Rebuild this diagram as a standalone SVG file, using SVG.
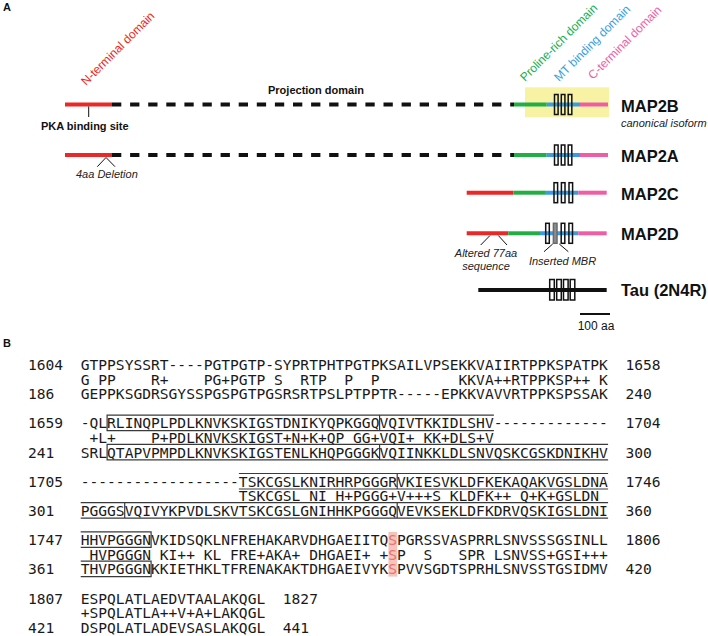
<svg xmlns="http://www.w3.org/2000/svg" width="708" height="636" viewBox="0 0 708 636">
<style>
.sans{font-family:"Liberation Sans",Arial,sans-serif}
.panel{font-family:"Liberation Sans",Arial,sans-serif;font-weight:bold;font-size:11px;fill:#111}
.dom{font-family:"Liberation Sans",Arial,sans-serif;font-size:12px}
.lbl{font-family:"Liberation Sans",Arial,sans-serif;font-weight:bold;font-size:16.5px;fill:#111}
.note{font-family:"Liberation Sans",Arial,sans-serif;font-style:italic;font-size:11px;fill:#222}
.bnote{font-family:"Liberation Sans",Arial,sans-serif;font-weight:bold;font-size:11px;fill:#111}
.red{stroke:#ec2727;stroke-width:4}
.grn{stroke:#22ad45;stroke-width:4}
.blu{stroke:#3b9de0;stroke-width:4}
.pnk{stroke:#ef5ea2;stroke-width:4}
.dash{stroke:#111;stroke-width:4;stroke-dasharray:9.3 8.8}
.mt{fill:none;stroke:#111;stroke-width:1.5}
.mtg{fill:#8e8e8e;stroke:#6a6a6a;stroke-width:1.5}
.tick{stroke:#111;stroke-width:1;fill:none}
.seq{font-family:"DejaVu Sans Mono",monospace;font-size:14.6px;fill:#1a1a1a;white-space:pre}
.box{fill:none;stroke:#3a3a3a;stroke-width:1.2}
.hl{fill:#e8736e}
</style>

<text class="panel" x="3" y="11">A</text>
<text class="panel" x="3" y="347">B</text>

<g id="domain-labels">
<text class="dom" fill="#ec2727" transform="translate(86,86) rotate(-45)">N-terminal domain</text>
<text class="dom" fill="#22ad45" transform="translate(525,82) rotate(-45)">Proline-rich domain</text>
<text class="dom" fill="#3b9de0" transform="translate(559,82) rotate(-45)">MT binding domain</text>
<text class="dom" fill="#ef5ea2" transform="translate(593,80) rotate(-45)">C-terminal domain</text>
<text class="bnote" x="268" y="93.5">Projection domain</text>
</g>

<g id="MAP2B">
<rect x="525" y="87.3" width="84" height="30" fill="#f7f2a4"/>
<line class="red" x1="65" y1="104.5" x2="112" y2="104.5"/>
<line class="dash" x1="112" y1="104.5" x2="514" y2="104.5"/>
<line class="grn" x1="514" y1="104.5" x2="546.7" y2="104.5"/>
<line class="blu" x1="546.7" y1="104.5" x2="580" y2="104.5"/>
<line class="pnk" x1="580" y1="104.5" x2="608" y2="104.5"/>
<rect class="mt" x="554.5" y="94.5" width="3.6" height="20"/>
<rect class="mt" x="561.3" y="94.5" width="3.6" height="20"/>
<rect class="mt" x="568.2" y="94.5" width="3.6" height="20"/>
<text class="lbl" x="621" y="111.5">MAP2B</text>
<text class="note" x="621" y="126.5">canonical isoform</text>
<text class="bnote" x="41" y="130">PKA binding site</text>
</g>

<g id="MAP2A">
<line class="red" x1="65" y1="155" x2="112" y2="155"/>
<line class="dash" x1="112" y1="155" x2="514" y2="155"/>
<line class="grn" x1="514" y1="155" x2="546.7" y2="155"/>
<line class="blu" x1="546.7" y1="155" x2="580" y2="155"/>
<line class="pnk" x1="580" y1="155" x2="608" y2="155"/>
<rect class="mt" x="554.5" y="145" width="3.6" height="20"/>
<rect class="mt" x="561.3" y="145" width="3.6" height="20"/>
<rect class="mt" x="568.2" y="145" width="3.6" height="20"/>
<text class="lbl" x="621" y="161.5">MAP2A</text>
<text class="note" x="76" y="178">4aa Deletion</text>
</g>

<g id="MAP2C">
<line class="red" x1="466.7" y1="192.7" x2="513.3" y2="192.7"/>
<line class="grn" x1="513.3" y1="192.7" x2="545" y2="192.7"/>
<line class="blu" x1="545" y1="192.7" x2="578.3" y2="192.7"/>
<line class="pnk" x1="578.3" y1="192.7" x2="606.7" y2="192.7"/>
<rect class="mt" x="554" y="182.7" width="3.6" height="20"/>
<rect class="mt" x="561.4" y="182.7" width="3.6" height="20"/>
<rect class="mt" x="569" y="182.7" width="3.6" height="20"/>
<text class="lbl" x="621" y="199.5">MAP2C</text>
</g>

<g id="MAP2D">
<line class="red" x1="466.7" y1="233.3" x2="508.3" y2="233.3"/>
<line class="grn" x1="508.3" y1="233.3" x2="540" y2="233.3"/>
<line class="blu" x1="540" y1="233.3" x2="578.3" y2="233.3"/>
<line class="pnk" x1="578.3" y1="233.3" x2="606.7" y2="233.3"/>
<rect class="mt" x="545.7" y="223.3" width="3.6" height="20"/>
<rect class="mtg" x="553.4" y="223.3" width="3.6" height="20"/>
<rect class="mt" x="561.2" y="223.3" width="3.6" height="20"/>
<rect class="mt" x="568.9" y="223.3" width="3.6" height="20"/>
<text class="lbl" x="621" y="240">MAP2D</text>
<text class="note" x="486" y="256.5" text-anchor="middle">Altered 77aa</text>
<text class="note" x="486" y="269.5" text-anchor="middle">sequence</text>
<text class="note" x="562.5" y="264.5" text-anchor="middle">Inserted MBR</text>
</g>

<g id="Tau">
<line x1="478.3" y1="290" x2="606.7" y2="290" stroke="#111" stroke-width="4"/>
<rect class="mt" x="549.7" y="279.5" width="4.6" height="20.5"/>
<rect class="mt" x="556.7" y="279.5" width="4.6" height="20.5"/>
<rect class="mt" x="563.5" y="279.5" width="4.6" height="20.5"/>
<rect class="mt" x="570.2" y="279.5" width="4.6" height="20.5"/>
<text class="lbl" x="621" y="296">Tau (2N4R)</text>
</g>

<g id="scale-bar">
<line x1="580" y1="314" x2="610" y2="314" stroke="#111" stroke-width="2"/>
<text class="sans" x="596" y="329.5" font-size="12" text-anchor="middle" fill="#111">100 aa</text>
</g>

<g id="connectors">
<line class="tick" x1="88.7" y1="106.5" x2="88.7" y2="117"/>
<polyline class="tick" points="97.3,166.7 106,157.5 115,166.7"/>
<line class="tick" x1="490" y1="235.5" x2="480.7" y2="245"/>
<line class="tick" x1="498.3" y1="235.5" x2="507" y2="245"/>
<line class="tick" x1="552.7" y1="244" x2="544" y2="251.7"/>
<line class="tick" x1="559.3" y1="244" x2="568.3" y2="251.7"/>
</g>

<g id="alignment">
<rect x="388.4" y="531.9" width="8.79" height="44.7" fill="#f6c3bd"/>
<path class="box" d="M493.9 415.1H107.1V430.6H493.9M379.6 415.1V430.6"/>
<path class="box" d="M608.1 444.3H107.1V459.8H608.1M379.6 444.3V459.8"/>
<path class="box" d="M238.9 473.5H608.1M238.9 489H608.1M397.2 473.5V489"/>
<path class="box" d="M80.7 502.7H608.1M80.7 518.2H608.1M124.7 502.7V518.2M397.2 502.7V518.2"/>
<path class="box" d="M80.7 531.9H151.1V547.4H80.7"/>
<path class="box" d="M80.7 561.1H151.1V576.6H80.7"/>
<text class="seq" x="28" y="370" xml:space="preserve">1604  GTPPSYSSRT----PGTPGTP-SYPRTPHTPGTPKSAILVPSEKKVAIIRTPPKSPATPK  1658</text>
<text class="seq" x="28" y="384.6" xml:space="preserve">      G PP    R+    PG+PGTP S  RTP  P  P         KKVA++RTPPKSP++ K</text>
<text class="seq" x="28" y="399.2" xml:space="preserve">186   GEPPKSGDRSGYSSPGSPGTPGSRSRTPSLPTPPTR-----EPKKVAVVRTPPKSPSSAK  240</text>
<text class="seq" x="28" y="428.4" xml:space="preserve">1659  -QLRLINQPLPDLKNVKSKIGSTDNIKYQPKGGQVQIVTKKIDLSHV-------------  1704</text>
<text class="seq" x="28" y="443" xml:space="preserve">       +L+    P+PDLKNVKSKIGST+N+K+QP GG+VQI+ KK+DLS+V</text>
<text class="seq" x="28" y="457.6" xml:space="preserve">241   SRLQTAPVPMPDLKNVKSKIGSTENLKHQPGGGKVQIINKKLDLSNVQSKCGSKDNIKHV  300</text>
<text class="seq" x="28" y="486.8" xml:space="preserve">1705  ------------------TSKCGSLKNIRHRPGGGRVKIESVKLDFKEKAQAKVGSLDNA  1746</text>
<text class="seq" x="28" y="501.4" xml:space="preserve">                        TSKCGSL NI H+PGGG+V+++S KLDFK++ Q+K+GSLDN</text>
<text class="seq" x="28" y="516" xml:space="preserve">301   PGGGSVQIVYKPVDLSKVTSKCGSLGNIHHKPGGGQVEVKSEKLDFKDRVQSKIGSLDNI  360</text>
<text class="seq" x="28" y="545.2" xml:space="preserve">1747  HHVPGGGNVKIDSQKLNFREHAKARVDHGAEIITQ<tspan class="hl">S</tspan>PGRSSVASPRRLSNVSSSGSINLL  1806</text>
<text class="seq" x="28" y="559.8" xml:space="preserve">       HVPGGGN KI++ KL FRE+AKA+ DHGAEI+ +<tspan class="hl">S</tspan>P  S   SPR LSNVSS+GSI+++</text>
<text class="seq" x="28" y="574.4" xml:space="preserve">361   THVPGGGNKKIETHKLTFRENAKAKTDHGAEIVYK<tspan class="hl">S</tspan>PVVSGDTSPRHLSNVSSTGSIDMV  420</text>
<text class="seq" x="28" y="603.6" xml:space="preserve">1807  ESPQLATLAEDVTAALAKQGL  1827</text>
<text class="seq" x="28" y="618.2" xml:space="preserve">      +SPQLATLA++V+A+LAKQGL</text>
<text class="seq" x="28" y="632.8" xml:space="preserve">421   DSPQLATLADEVSASLAKQGL  441</text>
</g>
</svg>
